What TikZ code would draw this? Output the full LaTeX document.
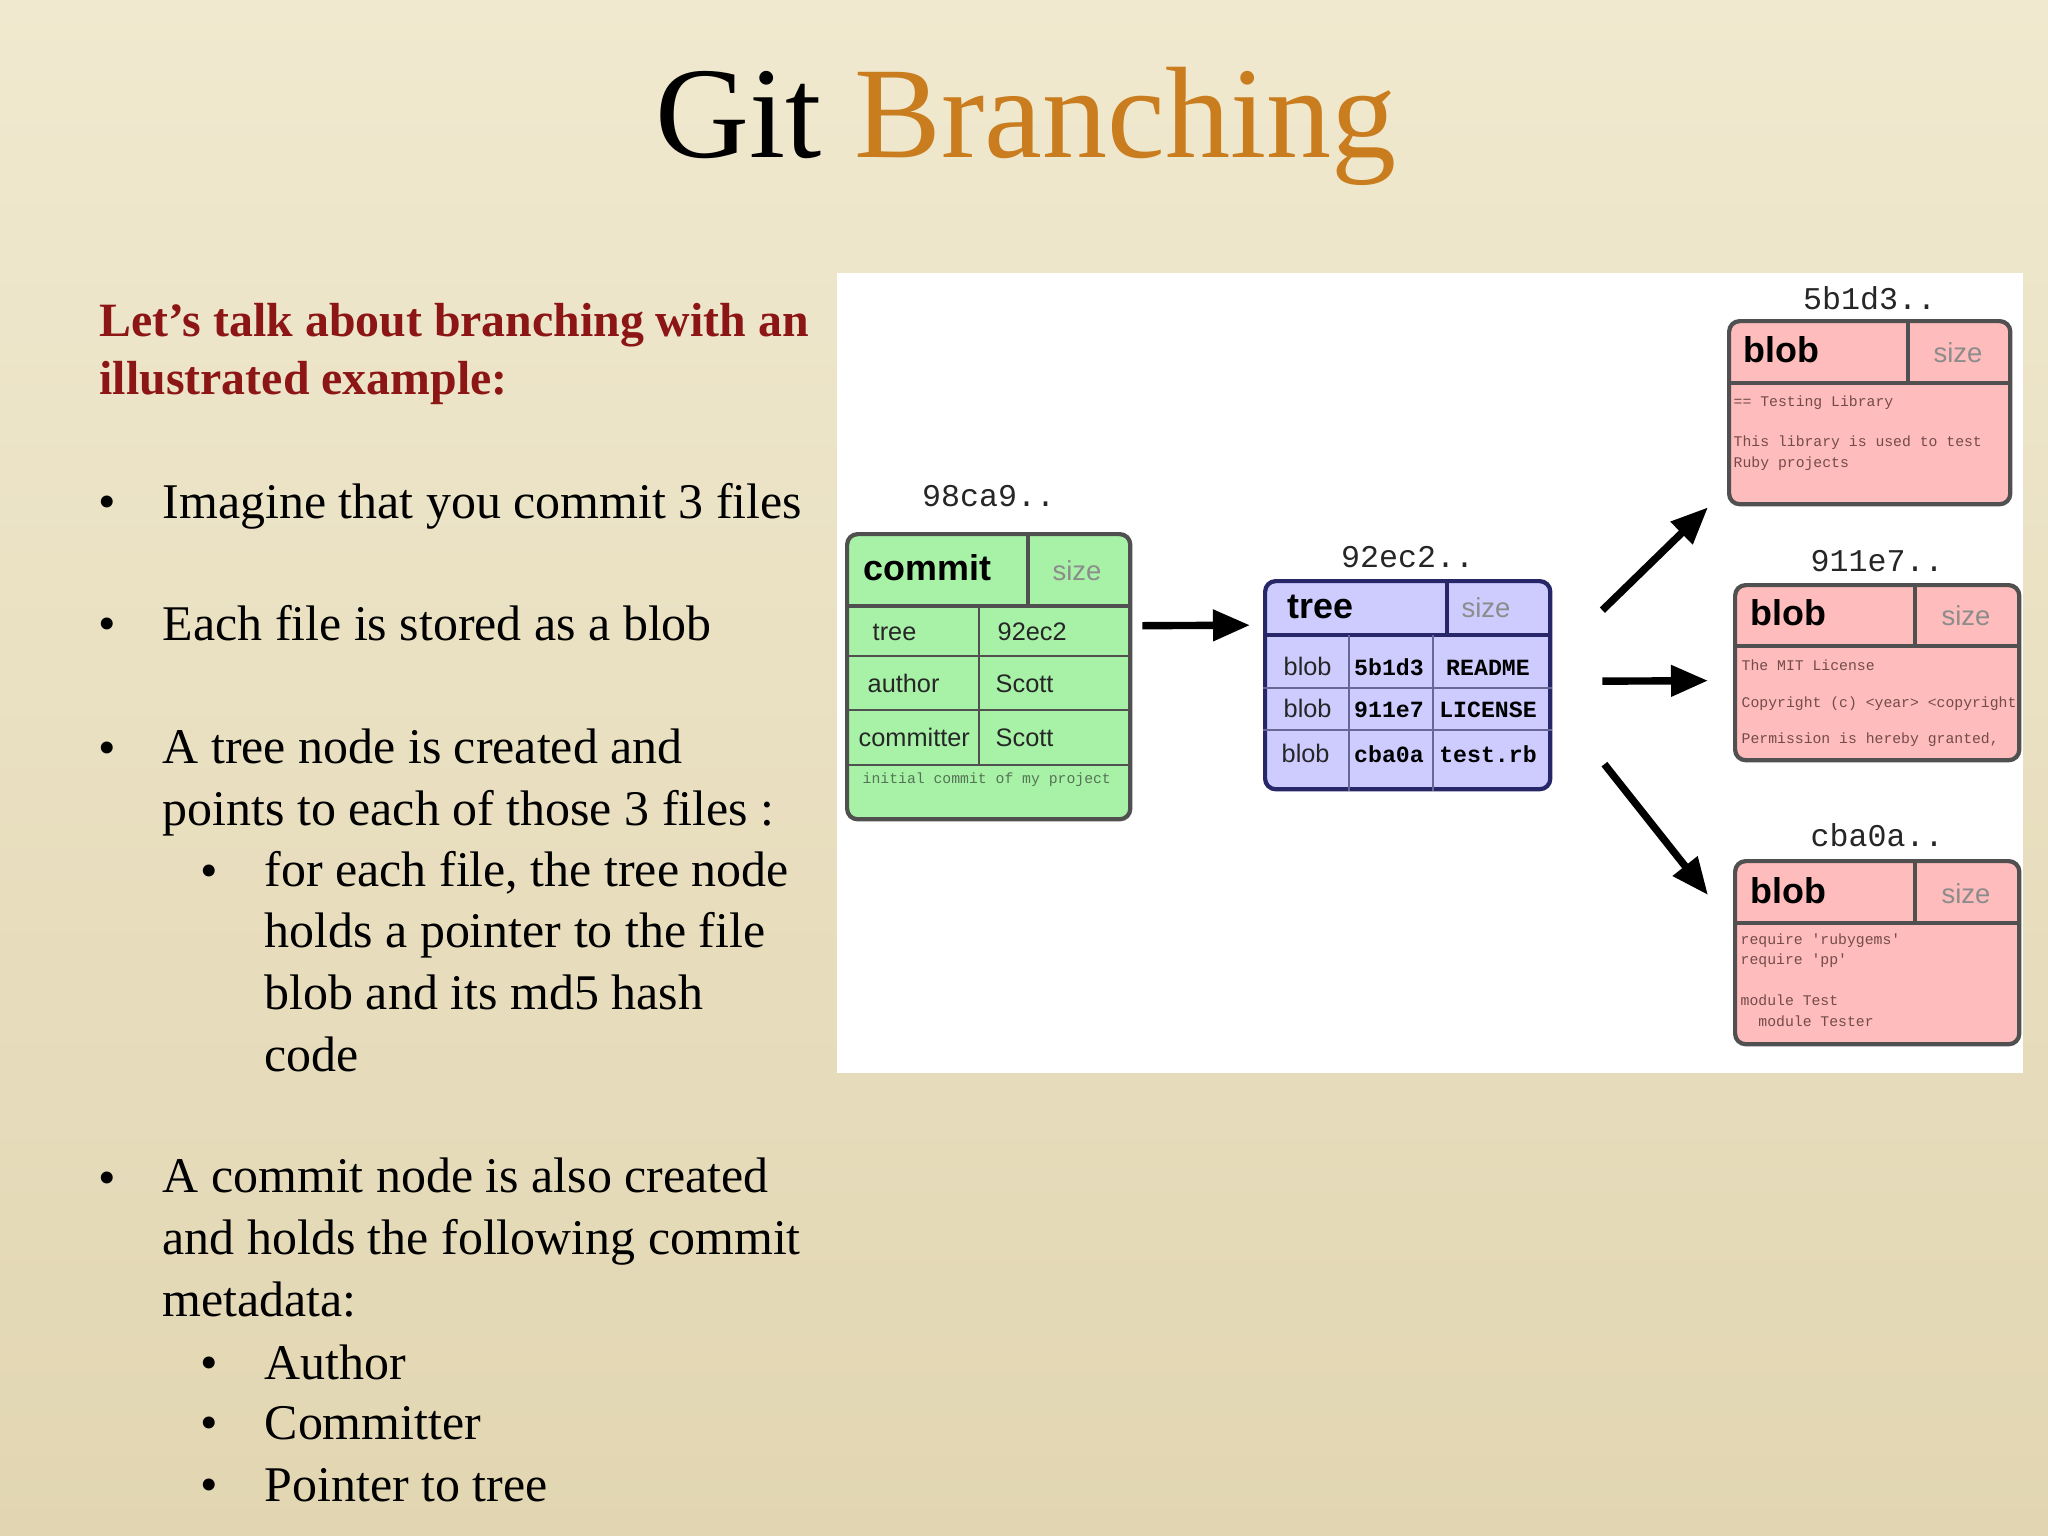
\documentclass[tikz,border=0pt]{standalone}
\usepackage{fontspec}
\setmainfont{Liberation Serif}
\setsansfont{Liberation Sans}
\setmonofont{Liberation Mono}
\usetikzlibrary{arrows.meta,positioning,calc}

\definecolor{parchtop}{RGB}{240,233,207}
\definecolor{parchbot}{RGB}{226,214,178}
\definecolor{headred}{RGB}{140,22,22}
\definecolor{titleorange}{RGB}{201,125,30}
\definecolor{commitgreen}{RGB}{168,242,168}
\definecolor{treeblue}{RGB}{206,204,255}
\definecolor{blobpink}{RGB}{255,188,188}
\definecolor{boxedge}{RGB}{80,80,80}
\definecolor{treeedge}{RGB}{38,38,105}
\definecolor{sizegray}{RGB}{140,140,140}
\definecolor{notegreen}{RGB}{85,115,85}
\definecolor{notered}{RGB}{115,75,75}

\begin{document}
\begin{tikzpicture}[x=0.01cm, y=-0.01cm,  % pixel grid, y going down
  box/.style={draw=boxedge, line width=1.2pt, rounded corners=3pt,
              anchor=north west, inner sep=0pt},
  rule/.style={draw=boxedge, line width=1.2pt},
  cell/.style={draw=boxedge, line width=0.8pt},
  kind/.style={font=\sffamily\bfseries\fontsize{10.2}{12}\selectfont,
               anchor=base west, inner sep=0pt},
  sizetag/.style={font=\sffamily\fontsize{7.8}{9}\selectfont, text=sizegray,
                  anchor=base, inner sep=0pt},
  field/.style={font=\sffamily\fontsize{7.2}{9}\selectfont, text=black!85,
                anchor=base west, inner sep=0pt},
  hashcell/.style={font=\ttfamily\bfseries\fontsize{6.6}{8}\selectfont,
                   anchor=base, inner sep=0pt},
  hashid/.style={font=\ttfamily\fontsize{9}{11}\selectfont, text=black!85,
                 inner sep=0pt, text depth=0pt},
  content/.style={font=\ttfamily\fontsize{4.2}{5.7}\selectfont, align=left,
                  anchor=base west, inner sep=0pt},
  arrow/.style={-{Triangle[length=0.37cm, width=0.3cm]}, line width=2.1pt},
  bodytext/.style={font=\fontsize{14.2}{17.5}\selectfont, align=left,
                   anchor=base west, inner sep=0pt},
  dot/.style={font=\fontsize{14.2}{17.5}\selectfont, anchor=base, inner sep=0pt}
]
\useasboundingbox (0,0) rectangle (2048,1536);

% --- Slide background ---
\shade[top color=parchtop, bottom color=parchbot] (0,0) rectangle (2048,1536);
\fill[white] (837,273) rectangle (2023,1073);

% --- Title and text column (multi-line nodes sit on their last baseline) ---
\node[anchor=base, font=\fontsize{37}{44}\selectfont, inner sep=0pt] (title) at (1026,157)
  {Git \textcolor{titleorange}{Branching}};
\node[anchor=base west, align=left, text=headred, inner sep=0pt,
      font=\bfseries\fontsize{13.6}{16.4}\selectfont] (intro) at (99,394)
  {Let’s talk about branching with an\\illustrated example:};

\node[dot] (b1) at (107,518) {•};
\node[bodytext] (item1) at (162,518) {Imagine that you commit 3 files};
\node[dot] (b2) at (107,640) {•};
\node[bodytext] (item2) at (162,640) {Each file is stored as a blob};
\node[dot] (b3) at (107,764) {•};
\node[bodytext] (item3) at (162,825) {A tree node is created and\\points to each of those 3 files :};
\node[dot] (b3a) at (209,887) {•};
\node[bodytext] (item3a) at (264,1071)
  {for each file, the tree node\\holds a pointer to the file\\blob and its md5 hash\\code};
\node[dot] (b4) at (107,1194) {•};
\node[bodytext] (item4) at (162,1316)
  {A commit node is also created\\and holds the following commit\\metadata:};
\node[dot] (b4a) at (209,1379) {•};
\node[bodytext] (item4a) at (264,1379) {Author};
\node[dot] (b4b) at (209,1439) {•};
\node[bodytext] (item4b) at (264,1439) {Committer};
\node[dot] (b4c) at (209,1501) {•};
\node[bodytext] (item4c) at (264,1501) {Pointer to tree};

% --- Commit object ---
\node[box, fill=commitgreen, minimum width=2.83cm, minimum height=2.85cm] (commit) at (845,532) {};
\node[hashid, above=0.25cm of commit] (commitid) {98ca9..};
\draw[rule] (commit.west |- 0,606) -- (commit.east |- 0,606);
\draw[rule] (1028,0 |- commit.north) -- (1028,606);
\draw[cell] (commit.west |- 0,656) -- (commit.east |- 0,656);
\draw[cell] (commit.west |- 0,710) -- (commit.east |- 0,710);
\draw[cell] (commit.west |- 0,765) -- (commit.east |- 0,765);
\draw[cell] (979,606) -- (979,765);
\node[kind] (commitkind) at (863,580) {commit};
\node[sizetag] (commitsize) at (1077,580) {size};
\node[field] (ctree) at (872,640) {tree};
\node[field] (ctreeval) at (997,640) {92ec2};
\node[field] (cauthor) at (867,692) {author};
\node[field] (cauthorval) at (995,692) {Scott};
\node[field] (ccommitter) at (858,746) {committer};
\node[field] (ccommitterval) at (995,746) {Scott};
\node[content, text=notegreen] (cmsg) at (862,783) {initial commit of my project};

% --- Tree object ---
\node[box, draw=treeedge, fill=treeblue, minimum width=2.85cm, minimum height=2.08cm] (tree) at (1263,579) {};
\node[hashid, above=0.11cm of tree] (treeid) {92ec2..};
\draw[rule, draw=treeedge] (tree.west |- 0,635) -- (tree.east |- 0,635);
\draw[rule, draw=treeedge] (1447,0 |- tree.north) -- (1447,635);
\draw[cell, draw=treeedge!70] (tree.west |- 0,688) -- (tree.east |- 0,688);
\draw[cell, draw=treeedge!70] (tree.west |- 0,730) -- (tree.east |- 0,730);
\draw[cell, draw=treeedge!70] (1349,635) -- (1349,0 |- tree.south);
\draw[cell, draw=treeedge!70] (1433,635) -- (1433,0 |- tree.south);
\node[kind] (treekind) at (1287,618) {tree};
\node[sizetag] (treesize) at (1486,617) {size};
\node[field] (t1kind) at (1283,675) {blob};
\node[hashcell] (t1hash) at (1389,675) {5b1d3};
\node[hashcell] (t1name) at (1488,675) {README};
\node[field] (t2kind) at (1283,717) {blob};
\node[hashcell] (t2hash) at (1389,717) {911e7};
\node[hashcell] (t2name) at (1488,717) {LICENSE};
\node[field] (t3kind) at (1281,762) {blob};
\node[hashcell] (t3hash) at (1389,762) {cba0a};
\node[hashcell] (t3name) at (1488,762) {test.rb};

% --- Blob objects ---
\node[box, fill=blobpink, minimum width=2.81cm, minimum height=1.83cm] (readme) at (1727,319) {};
\node[hashid, above=0.09cm of readme] (readmeid) {5b1d3..};
\draw[rule] (readme.west |- 0,383) -- (readme.east |- 0,383);
\draw[rule] (1908,0 |- readme.north) -- (1908,383);
\node[kind] (readmekind) at (1743,362) {blob};
\node[sizetag] (readmesize) at (1958,362) {size};
\node[content, text=notered] (readmetext) at (1733,467)
  {== Testing Library\\[5.7pt]This library is used to test\\Ruby projects};

\node[box, fill=blobpink, minimum width=2.84cm, minimum height=1.75cm] (license) at (1733,583) {};
\node[hashid, above=0.11cm of license] (licenseid) {911e7..};
\draw[rule] (license.west |- 0,646) -- (license.east |- 0,646);
\draw[rule] (1915,0 |- license.north) -- (1915,646);
\node[kind] (licensekind) at (1750,625) {blob};
\node[sizetag] (licensesize) at (1966,625) {size};
\node[content, text=notered] (licensetext) at (1741,743)
  {The MIT License\\[4.9pt]Copyright (c) <year> <copyright\\[4.3pt]Permission is hereby granted,};

\node[box, fill=blobpink, minimum width=2.84cm, minimum height=1.83cm] (testrb) at (1733,859) {};
\node[hashid, above=0.12cm of testrb] (testrbid) {cba0a..};
\draw[rule] (testrb.west |- 0,923) -- (testrb.east |- 0,923);
\draw[rule] (1915,0 |- testrb.north) -- (1915,923);
\node[kind] (testrbkind) at (1750,903) {blob};
\node[sizetag] (testrbsize) at (1966,903) {size};
\node[content, text=notered] (testrbtext) at (1740,1026)
  {require 'rubygems'\\require 'pp'\\[6.2pt]module Test\\\hspace*{1.2em}module Tester};

% --- Pointers ---
\draw[arrow] ([shift={(10,-51)}]commit.east) -- ([shift={(-13,-60)}]tree.west);
\draw[arrow] ([shift={(50,-75)}]tree.east) -- ([shift={(-19,1)}]readme.south west);
\draw[arrow] ([shift={(50,-4)}]tree.east) -- ([shift={(-25,8)}]license.west);
\draw[arrow] ([shift={(52,79)}]tree.east) -- ([shift={(-25,36)}]testrb.north west);

\end{tikzpicture}
\end{document}
